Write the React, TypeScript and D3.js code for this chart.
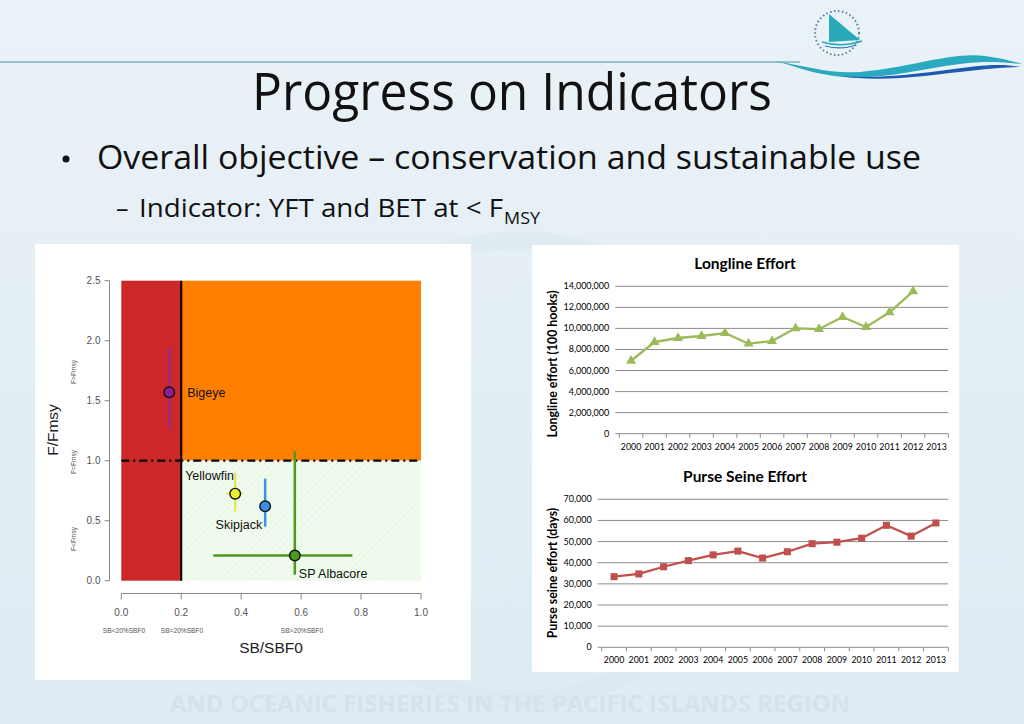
import React from "react";
import * as d3 from "d3";

// ---------- Data ----------
const stocks = ["Bigeye", "Yellowfin", "Skipjack", "SP Albacore"];
const sbRatio = [0.16, 0.38, 0.48, 0.579];
const sbLow = [0.155, 0.351, 0.472, 0.307];
const sbHigh = [0.165, 0.405, 0.488, 0.771];
const fRatio = [1.57, 0.725, 0.62, 0.21];
const fLow = [1.26, 0.575, 0.45, 0.05];
const fHigh = [1.95, 0.9, 0.85, 1.08];
const stockColors = ["#8E1F8E", "#EEEE30", "#3A8EE6", "#4A9A1C"];
const stockBarColors = ["#9A2A8E", "#E8E860", "#3A92E8", "#4E9A1E"];

const fTicks = [0, 0.5, 1, 1.5, 2, 2.5];
const sbTicks = [0, 0.2, 0.4, 0.6, 0.8, 1.0];

const years = ["2000", "2001", "2002", "2003", "2004", "2005", "2006", "2007", "2008", "2009", "2010", "2011", "2012", "2013"];
const longlineEffort: (number | null)[] = [6930000, 8710000, 9090000, 9280000, 9560000, 8550000, 8800000, 10010000, 9940000, 11080000, 10130000, 11530000, 13520000, null];
const purseSeineEffort: (number | null)[] = [33400, 34700, 38100, 41000, 43700, 45500, 42200, 45200, 49000, 49700, 51600, 57700, 52600, 58800];
const longlineTicks = [0, 2000000, 4000000, 6000000, 8000000, 10000000, 12000000, 14000000];
const purseTicks = [0, 10000, 20000, 30000, 40000, 50000, 60000, 70000];

const ARIAL = "'Liberation Sans', Arial, sans-serif";
const CAL = "Lato, 'Open Sans', sans-serif";
const SLIDE = "'Open Sans', 'Noto Sans', sans-serif";

function KobePlot() {
  const x = d3.scaleLinear().domain([0, 1]).range([121.3, 421]);
  const y = d3.scaleLinear().domain([0, 2.5]).range([580.7, 280.7]);
  const axisX = 109.5;
  const axisY = 593.5;
  const labelOffsets = [
    { dx: 18, dy: 1, anchor: "start" },
    { dx: -50, dy: -18, anchor: "start" },
    { dx: -3, dy: 19, anchor: "end" },
    { dx: 4, dy: 18, anchor: "start" },
  ];
  return (
    <g>
      <rect x={35} y={244} width={436} height={436} fill="#ffffff" />
      <rect x={x(0)} y={y(2.5)} width={x(0.2) - x(0)} height={y(0) - y(2.5)} fill="#CC2828" />
      <rect x={x(0.2)} y={y(2.5)} width={x(1) - x(0.2)} height={y(1) - y(2.5)} fill="#FF8000" />
      <rect x={x(0.2)} y={y(1)} width={x(1) - x(0.2)} height={y(0) - y(1)} fill="#EFFBEC" />
      <rect x={x(0.2)} y={y(1)} width={x(1) - x(0.2)} height={y(0) - y(1)} fill="url(#hatch)" />
      <line x1={x(0.2)} x2={x(0.2)} y1={y(0)} y2={y(2.5)} stroke="#000" strokeWidth={2} />
      <line x1={x(0)} x2={x(1)} y1={y(1)} y2={y(1)} stroke="#000" strokeWidth={2.2} strokeDasharray="8,4,2,4" />
      <line x1={axisX} x2={axisX} y1={y(0)} y2={y(2.5)} stroke="#888" strokeWidth={1} />
      {fTicks.map((t) => (
        <g key={"fy" + t}>
          <line x1={axisX - 5} x2={axisX} y1={y(t)} y2={y(t)} stroke="#888" />
          <text x={axisX - 9} y={y(t) + 3.5} textAnchor="end" fontSize={10} fontFamily={ARIAL} fill="#555">
            {d3.format(".1f")(t)}
          </text>
        </g>
      ))}
      <line x1={x(0)} x2={x(1)} y1={axisY} y2={axisY} stroke="#888" strokeWidth={1} />
      {sbTicks.map((t) => (
        <g key={"sx" + t}>
          <line x1={x(t)} x2={x(t)} y1={axisY} y2={axisY + 6} stroke="#888" />
          <text x={x(t)} y={axisY + 22} textAnchor="middle" fontSize={10} fontFamily={ARIAL} fill="#555">
            {d3.format(".1f")(t)}
          </text>
        </g>
      ))}
      <text x={124} y={633} textAnchor="middle" fontSize={6.6} fontFamily={ARIAL} fill="#555">SB&lt;20%SBF0</text>
      <text x={182} y={633} textAnchor="middle" fontSize={6.6} fontFamily={ARIAL} fill="#555">SB=20%SBF0</text>
      <text x={302} y={633} textAnchor="middle" fontSize={6.6} fontFamily={ARIAL} fill="#555">SB&gt;20%SBF0</text>
      <text x={271} y={653} textAnchor="middle" fontSize={15.5} fontFamily={ARIAL} fill="#222">SB/SBF0</text>
      <text transform={`translate(58,430) rotate(-90)`} textAnchor="middle" fontSize={15.5} fontFamily={ARIAL} fill="#222">F/Fmsy</text>
      <text transform={`translate(75.5,372) rotate(-90)`} textAnchor="middle" fontSize={6.6} fontFamily={ARIAL} fill="#555">F&gt;Fmsy</text>
      <text transform={`translate(75.5,462) rotate(-90)`} textAnchor="middle" fontSize={6.6} fontFamily={ARIAL} fill="#555">F=Fmsy</text>
      <text transform={`translate(75.5,539) rotate(-90)`} textAnchor="middle" fontSize={6.6} fontFamily={ARIAL} fill="#555">F&lt;Fmsy</text>
      {stocks.map((s, i) => {
        const px = x(sbRatio[i]);
        const py = y(fRatio[i]);
        const o = labelOffsets[i];
        return (
          <g key={s}>
            <line x1={px} x2={px} y1={y(fLow[i])} y2={y(fHigh[i])} stroke={stockBarColors[i]} strokeWidth={2.5} />
            <line x1={x(sbLow[i])} x2={x(sbHigh[i])} y1={py} y2={py} stroke={stockBarColors[i]} strokeWidth={2.5} />
            <circle cx={px} cy={py} r={5.3} fill={stockColors[i]} stroke="#111" strokeWidth={1.4} />
            <text x={px + o.dx} y={py + o.dy + 4} textAnchor={o.anchor as any} fontSize={12.5} fontFamily={ARIAL} fill="#111">
              {s}
            </text>
          </g>
        );
      })}
    </g>
  );
}

type LineChartProps = {
  title: string;
  yLabel: string;
  values: (number | null)[];
  ticks: number[];
  color: string;
  marker: "triangle" | "square";
  x0: number;
  x1: number;
  yTop: number;
  yBottom: number;
  titleX: number;
  titleY: number;
  yLabelX: number;
  yLabelY: number;
};

function LineChart(p: LineChartProps) {
  const xb = d3.scaleBand<string>().domain(years).range([p.x0, p.x1]).padding(0);
  const maxT = p.ticks[p.ticks.length - 1];
  const y = d3.scaleLinear().domain([0, maxT]).range([p.yBottom, p.yTop]);
  const cx = (yr: string) => (xb(yr) as number) + xb.bandwidth() / 2;
  const pts = years
    .map((yr, i) => ({ yr, v: p.values[i] }))
    .filter((d) => d.v !== null) as { yr: string; v: number }[];
  const line = d3
    .line<{ yr: string; v: number }>()
    .x((d) => cx(d.yr))
    .y((d) => y(d.v));
  const sym = d3
    .symbol()
    .type(p.marker === "triangle" ? d3.symbolTriangle : d3.symbolSquare)
    .size(p.marker === "triangle" ? 44 : 50);
  const fmt = d3.format(",");
  return (
    <g>
      <text x={p.titleX} y={p.titleY} textAnchor="middle" fontSize={15.5} fontWeight={700} fontFamily={CAL} fill="#000">
        {p.title}
      </text>
      {p.ticks.map((t) => (
        <g key={t}>
          <line x1={p.x0 - 4} x2={p.x1} y1={y(t)} y2={y(t)} stroke="#8C8C8C" strokeWidth={1} />
          <text x={p.x0 - 10} y={y(t) + 3} textAnchor="end" fontSize={9} fontFamily={CAL} fill="#000">
            {fmt(t)}
          </text>
        </g>
      ))}
      {years.map((yr) => (
        <line key={"t" + yr} x1={xb(yr) as number} x2={xb(yr) as number} y1={p.yBottom} y2={p.yBottom + 4} stroke="#8C8C8C" />
      ))}
      <line x1={p.x1} x2={p.x1} y1={p.yBottom} y2={p.yBottom + 4} stroke="#8C8C8C" />
      {years.map((yr) => (
        <text key={"l" + yr} x={cx(yr)} y={p.yBottom + 16} textAnchor="middle" fontSize={8.8} fontFamily={CAL} fill="#000">
          {yr}
        </text>
      ))}
      <text transform={`translate(${p.yLabelX},${p.yLabelY}) rotate(-90)`} textAnchor="middle" fontSize={12.3} fontWeight={700} fontFamily={CAL} fill="#000">
        {p.yLabel}
      </text>
      <path d={line(pts) as string} fill="none" stroke={p.color} strokeWidth={2.3} strokeLinejoin="round" />
      {pts.map((d) => (
        <path key={"m" + d.yr} d={sym() as string} transform={`translate(${cx(d.yr)},${y(d.v)})`} fill={p.color} />
      ))}
    </g>
  );
}

function Header() {
  return (
    <g>
      <line x1={0} x2={800} y1={62} y2={62} stroke="#7FAFBE" strokeWidth={1.5} />
      <path
        d="M775,61 C805,66 830,74 860,72 C910,68 950,52 985,56 C1000,58 1012,61 1022,64 C1000,62 985,61 960,64 C920,69 880,80 845,77 C815,75 795,66 775,61 Z"
        fill="#2AA9C0"
      />
      <path
        d="M838,76 C880,80 930,72 970,67 C995,64 1010,65 1020,67 C990,68 960,72 925,76 C895,79 865,80 838,76 Z"
        fill="#1E5AAE"
      />
      <circle cx={837} cy={33} r={22} fill="none" stroke="#5A7FA0" strokeWidth={2} strokeDasharray="1.5,2.5" />
      <path d="M829,14 L829,42 L860,40 Z" fill="#2AA9B8" />
      <path d="M822,42 C835,46 850,45 862,41" fill="none" stroke="#2AA9B8" strokeWidth={1.5} />
      <path d="M825,46 C837,49 848,48 856,45" fill="none" stroke="#2C7FB0" strokeWidth={1.2} />
      <text x={512} y={110} textAnchor="middle" fontSize={51} fontFamily={SLIDE} fill="#111" textLength={520} lengthAdjust="spacingAndGlyphs">
        Progress on Indicators
      </text>
      <circle cx={66} cy={159} r={3.5} fill="#111" />
      <text x={97} y={169} fontSize={32} fontFamily={SLIDE} fill="#111" textLength={824} lengthAdjust="spacingAndGlyphs">
        Overall objective – conservation and sustainable use
      </text>
      <text x={116} y={217} fontSize={25} fontFamily={SLIDE} fill="#111">
        –
      </text>
      <text x={139} y={217} fontSize={25} fontFamily={SLIDE} fill="#111" textLength={364} lengthAdjust="spacingAndGlyphs">
        Indicator: YFT and BET at &lt; F
      </text>
      <text x={504} y={224} fontSize={16} fontFamily={SLIDE} fill="#111" textLength={36} lengthAdjust="spacingAndGlyphs">
        MSY
      </text>
    </g>
  );
}

export default function App() {
  return (
    <div style={{ position: "absolute", left: 0, top: 0 }}>
      <svg width={1024} height={724} viewBox="0 0 1024 724" style={{ display: "block" }}>
        <defs>
          <linearGradient id="bg" x1="0" y1="0" x2="0" y2="1">
            <stop offset="0" stopColor="#E9F2F7" />
            <stop offset="1" stopColor="#DEEBF2" />
          </linearGradient>
          <pattern id="hatch" width="5" height="5" patternUnits="userSpaceOnUse" patternTransform="rotate(45)">
            <line x1={0} y1={0} x2={0} y2={5} stroke="#E2F4DE" strokeWidth={1} />
          </pattern>
        </defs>
        <rect x={0} y={0} width={1024} height={724} fill="url(#bg)" />
        <circle cx={520} cy={470} r={230} fill="none" stroke="#D8E6EE" strokeWidth={18} opacity={0.4} />
        <text x={510} y={712} textAnchor="middle" fontSize={24} fontFamily={SLIDE} fill="#D6E2EA" fontWeight={700}>
          AND OCEANIC FISHERIES IN THE PACIFIC ISLANDS REGION
        </text>
        <Header />
        <KobePlot />
        <rect x={532} y={245} width={427} height={427} fill="#ffffff" />
        <LineChart
          title="Longline Effort"
          yLabel="Longline effort (100 hooks)"
          values={longlineEffort}
          ticks={longlineTicks}
          color="#9BBB59"
          marker="triangle"
          x0={619.3}
          x1={948.3}
          yTop={286.3}
          yBottom={433.7}
          titleX={745}
          titleY={269}
          yLabelX={557}
          yLabelY={364}
        />
        <LineChart
          title="Purse Seine Effort"
          yLabel="Purse seine effort (days)"
          values={purseSeineEffort}
          ticks={purseTicks}
          color="#C0504D"
          marker="square"
          x0={601.7}
          x1={948.3}
          yTop={499.3}
          yBottom={647.3}
          titleX={745}
          titleY={482}
          yLabelX={557}
          yLabelY={573}
        />
      </svg>
    </div>
  );
}
